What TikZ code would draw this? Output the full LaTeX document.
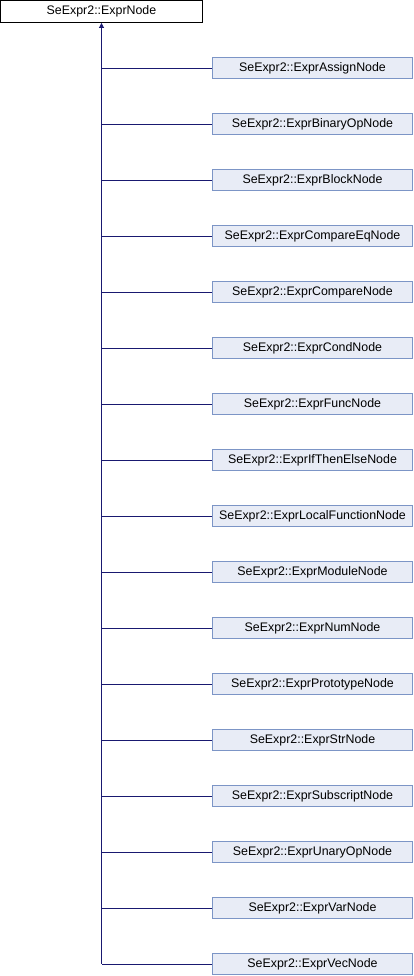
\documentclass[tikz,border=0pt]{standalone}
\usepackage{fontspec}
\setmainfont{Liberation Sans}
\usetikzlibrary{arrows.meta}
\definecolor{edgeblue}{HTML}{191970}
\definecolor{boxfill}{HTML}{E8ECF6}
\definecolor{boxdraw}{HTML}{7C95C6}
\tikzset{
  rootbox/.style={draw=black, fill=white, line width=0.9pt, minimum width=202pt, minimum height=22pt, inner sep=0pt, font=\fontsize{12.4}{14}\selectfont},
  childbox/.style={draw=boxdraw, fill=boxfill, line width=0.9pt, minimum width=200pt, minimum height=21pt, inner sep=0pt, font=\fontsize{12.4}{14}\selectfont},
  edge/.style={draw=edgeblue, line width=0.9pt},
}
\begin{document}
\begin{tikzpicture}[x=1pt,y=-1pt]
\useasboundingbox (0,0) rectangle (414,976);
\node[rootbox] (root) at (101.5,11.5) {SeExpr2::ExprNode};
\foreach \name [count=\i from 0] in {ExprAssignNode,ExprBinaryOpNode,ExprBlockNode,ExprCompareEqNode,ExprCompareNode,ExprCondNode,ExprFuncNode,ExprIfThenElseNode,ExprLocalFunctionNode,ExprModuleNode,ExprNumNode,ExprPrototypeNode,ExprStrNode,ExprSubscriptNode,ExprUnaryOpNode,ExprVarNode,ExprVecNode}{
  \node[childbox] (c\i) at (312.5,{68+56*\i}) {SeExpr2::\name};
  \draw[edge] (c\i.west) -- (root.south |- c\i.west);
}
\draw[edge, {Triangle[length=5pt,width=5pt]}-] (root.south) -- (root.south |- c16.west);
\end{tikzpicture}
\end{document}
